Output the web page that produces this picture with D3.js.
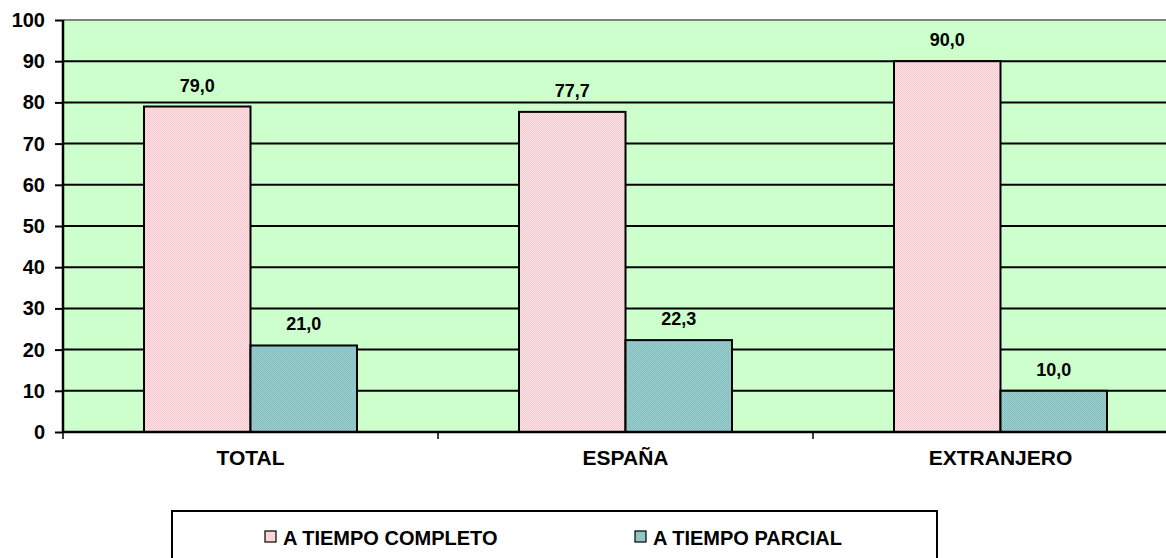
<!DOCTYPE html>
<html>
<head>
<meta charset="utf-8">
<script src="https://cdn.jsdelivr.net/npm/d3@7"></script>
<style>
  html, body { margin: 0; padding: 0; background: #fff; }
  svg { display: block; font-family: "Liberation Sans", Arial, sans-serif; }
</style>
</head>
<body>
<svg id="chart" width="1166" height="558"></svg>
<script>
// Categories and series (percentages)
const categories = ["TOTAL", "ESPAÑA", "EXTRANJERO"];
const seriesNames = ["A TIEMPO COMPLETO", "A TIEMPO PARCIAL"];
const completo = [79.0, 77.7, 90.0];
const parcial = [21.0, 22.3, 10.0];
const yTicks = [0, 10, 20, 30, 40, 50, 60, 70, 80, 90, 100];

const svg = d3.select("#chart");
const defs = svg.append("defs");

// Dotted fills for the two series
function dotPattern(id, base, dot) {
  const p = defs.append("pattern").attr("id", id)
    .attr("patternUnits", "userSpaceOnUse").attr("width", 2).attr("height", 2);
  p.append("rect").attr("width", 2).attr("height", 2).attr("fill", base);
  p.append("rect").attr("width", 1).attr("height", 1).attr("fill", dot);
  p.append("rect").attr("x", 1).attr("y", 1).attr("width", 1).attr("height", 1).attr("fill", dot);
}
dotPattern("pinkDots", "#ffe3e6", "#f6c9cf");
dotPattern("tealDots", "#9acfcf", "#86bdbf");
const fills = ["url(#pinkDots)", "url(#tealDots)"];

const plot = { left: 63, top: 20, right: 1188, bottom: 432 };

const x0 = d3.scaleBand().domain(categories).range([plot.left, plot.right]).paddingInner(0).paddingOuter(0);
const barW = 106.5;
const x1 = d3.scaleBand().domain(seriesNames).range([0, barW * 2]).padding(0);
const groupOffset = (x0.bandwidth() - barW * 2) / 2;
const y = d3.scaleLinear().domain([0, 100]).range([plot.bottom, plot.top]);

// Plot background
svg.append("rect")
  .attr("x", plot.left).attr("y", plot.top)
  .attr("width", plot.right - plot.left).attr("height", plot.bottom - plot.top)
  .attr("fill", "#ccffcc");

// Horizontal gridlines
svg.append("g").selectAll("line")
  .data(yTicks.filter(d => d > 0 && d < 100))
  .join("line")
  .attr("x1", plot.left).attr("x2", plot.right)
  .attr("y1", d => y(d)).attr("y2", d => y(d))
  .attr("stroke", "#000").attr("stroke-width", 2);

// Top border of the plot area
svg.append("line")
  .attr("x1", plot.left).attr("x2", plot.right)
  .attr("y1", y(100)).attr("y2", y(100))
  .attr("stroke", "#808080").attr("stroke-width", 2);

// Bars
const groups = svg.append("g").selectAll("g")
  .data(categories.map((c, i) => ({ cat: c, vals: [completo[i], parcial[i]] })))
  .join("g")
  .attr("transform", d => `translate(${x0(d.cat) + groupOffset},0)`);

groups.selectAll("rect")
  .data(d => d.vals.map((v, j) => ({ v, j })))
  .join("rect")
  .attr("x", d => x1(seriesNames[d.j]))
  .attr("y", d => y(d.v))
  .attr("width", x1.bandwidth())
  .attr("height", d => y(0) - y(d.v))
  .attr("fill", d => fills[d.j])
  .attr("stroke", "#000").attr("stroke-width", 2);

// Value labels
groups.selectAll("text")
  .data(d => d.vals.map((v, j) => ({ v, j })))
  .join("text")
  .attr("x", d => x1(seriesNames[d.j]) + x1.bandwidth() / 2)
  .attr("y", d => y(d.v) - 15)
  .attr("text-anchor", "middle")
  .attr("font-size", 18).attr("font-weight", "bold")
  .text(d => d3.format(".1f")(d.v).replace(".", ","));

// Y axis
const yAxis = svg.append("g")
  .attr("transform", `translate(${plot.left},0)`)
  .call(d3.axisLeft(y).tickValues(yTicks).tickSize(8).tickPadding(10).tickFormat(d3.format("d")));
yAxis.select(".domain").attr("stroke", "#000").attr("stroke-width", 2.5)
  .attr("d", `M0,${plot.top}V${plot.bottom}`);
yAxis.selectAll(".tick line").attr("stroke", "#000").attr("stroke-width", 2);
yAxis.selectAll(".tick text")
  .attr("font-size", 20).attr("font-weight", "bold").attr("fill", "#000")
  .attr("font-family", "'Liberation Sans', Arial, sans-serif");

// X axis
const xAxis = svg.append("g")
  .attr("transform", `translate(0,${plot.bottom})`)
  .call(d3.axisBottom(x0).tickSize(0).tickPadding(18));
xAxis.select(".domain").attr("stroke", "#000").attr("stroke-width", 2.5)
  .attr("d", `M${plot.left},0H${plot.right}`);
xAxis.selectAll(".tick text")
  .attr("font-size", 21).attr("font-weight", "bold").attr("fill", "#000")
  .attr("font-family", "'Liberation Sans', Arial, sans-serif");
// Category separators
xAxis.append("g").selectAll("line")
  .data(categories)
  .join("line")
  .attr("x1", d => x0(d)).attr("x2", d => x0(d))
  .attr("y1", 0).attr("y2", 7)
  .attr("stroke", "#000").attr("stroke-width", 1.5);

// Legend
const legend = svg.append("g");
legend.append("rect")
  .attr("x", 172).attr("y", 511).attr("width", 765).attr("height", 52)
  .attr("fill", "#fff").attr("stroke", "#000").attr("stroke-width", 2);
const legendX = [265, 635];
seriesNames.forEach((name, i) => {
  legend.append("rect")
    .attr("x", legendX[i]).attr("y", 531).attr("width", 11).attr("height", 11)
    .attr("fill", fills[i]).attr("stroke", "#000").attr("stroke-width", 1.2);
  legend.append("text")
    .attr("x", legendX[i] + 18).attr("y", 545)
    .attr("font-size", 20).attr("font-weight", "bold")
    .text(name);
});
</script>
</body>
</html>
